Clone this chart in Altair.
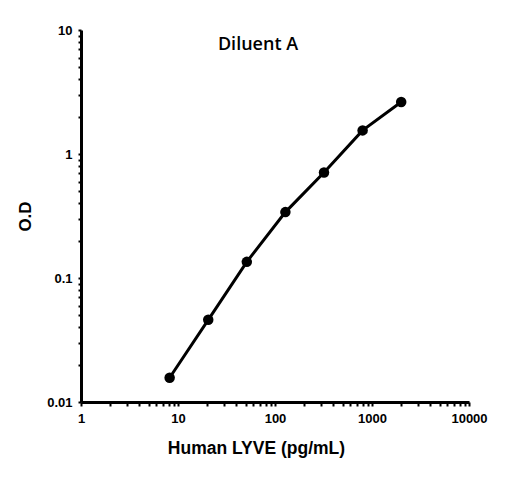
import altair as alt
import pandas as pd

conc = [8.2, 20.5, 51.2, 128, 320, 800, 2000]
od = [0.0157, 0.046, 0.135, 0.34, 0.71, 1.55, 2.63]

x_ticks = [m * 10 ** e for e in range(0, 4) for m in range(1, 10)] + [10000]
y_ticks = [round(m * 10 ** e, 6) for e in range(-2, 1) for m in range(1, 10)] + [10]

df = pd.DataFrame({"conc": conc, "od": od})

label_expr = "abs(log(datum.value)/LN10 - round(log(datum.value)/LN10)) < 1e-6 ? format(datum.value, '~g') : ''"

x = alt.X("conc:Q", scale=alt.Scale(type="log", domain=[1, 10000]),
          axis=alt.Axis(values=x_ticks, labelExpr=label_expr, title="Human LYVE (pg/mL)",
                        grid=False, domainWidth=3, domainColor="black", tickColor="black",
                        tickSize=4, tickWidth=2, labelFont="Liberation Sans",
                        labelFontWeight="bold", labelFontSize=13, labelColor="black",
                        labelOverlap=False, labelPadding=6, labelFlush=False,
                        titleFont="Liberation Sans", titleFontSize=17.5, titleX=175,
                        titleFontWeight="bold", titleColor="black", titlePadding=14))
y = alt.Y("od:Q", scale=alt.Scale(type="log", domain=[0.01, 10]),
          axis=alt.Axis(values=y_ticks, labelExpr=label_expr, title="O.D",
                        grid=False, domainWidth=3, domainColor="black", tickColor="black",
                        tickSize=3, tickWidth=2, labelFont="Liberation Sans",
                        labelFontWeight="bold", labelFontSize=13, labelColor="black",
                        labelOverlap=False, labelPadding=6, labelFlush=False,
                        titleFont="Liberation Sans", titleFontSize=17,
                        titleFontWeight="bold", titleColor="black", titlePadding=12))

base = alt.Chart(df)
line = base.mark_line(color="black", strokeWidth=3).encode(x=x, y=y)
pts = base.mark_point(filled=True, color="black", size=110, opacity=1).encode(x=x, y=y)
title = alt.Chart(pd.DataFrame({"t": ["Diluent A"]})).mark_text(
    font="Open Sans", fontSize=18, fontWeight=600, color="black", align="center", baseline="middle"
).encode(x=alt.value(177), y=alt.value(15), text="t:N")

chart = (line + pts + title).properties(
    width=388, height=372,
    background="white",
    autosize=alt.AutoSizeParams(type="none"),
    padding={"left": 73, "top": 22, "right": 30, "bottom": 70},
).configure_view(strokeWidth=0)

chart.save("out.html", embed_options={"renderer": "svg", "actions": False})
